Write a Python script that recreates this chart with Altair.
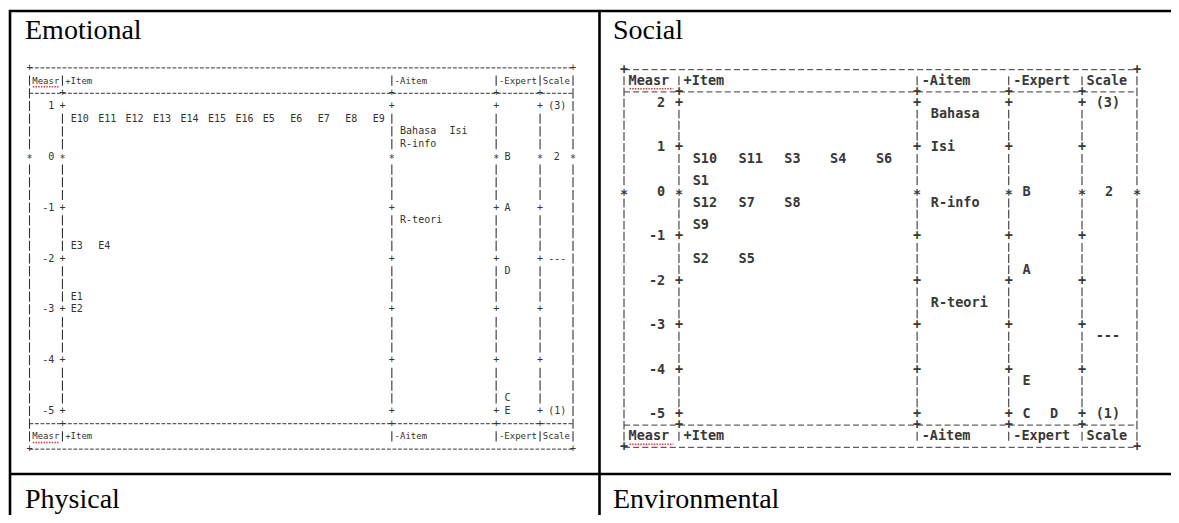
import altair as alt
import pandas as pd

M = 8  # page margin (px)

# ---------------- Emotional Wright map (logits) ----------------
emo_item_names = ["E10", "E11", "E12", "E13", "E14", "E15", "E16", "E5", "E6", "E7", "E8", "E9",
                  "E3", "E4", "E1", "E2"]
emo_item_meas = [0.75, 0.75, 0.75, 0.75, 0.75, 0.75, 0.75, 0.75, 0.75, 0.75, 0.75, 0.75,
                 -1.75, -1.75, -2.75, -3.0]
emo_aitem_names = ["Bahasa", "Isi", "R-info", "R-teori"]
emo_aitem_meas = [0.5, 0.5, 0.25, -1.25]
emo_expert_names = ["B", "A", "D", "C", "E"]
emo_expert_meas = [0.0, -1.0, -2.25, -4.75, -5.0]
emo_scale_labels = ["(3)", "2", "---", "(1)"]
emo_scale_meas = [1.0, 0.0, -2.0, -5.0]

# ---------------- Social Wright map ----------------
soc_item_names = ["S10", "S11", "S3", "S4", "S6", "S1", "S12", "S7", "S8", "S9", "S2", "S5"]
soc_item_meas = [0.75, 0.75, 0.75, 0.75, 0.75, 0.25, -0.25, -0.25, -0.25, -0.75, -1.5, -1.5]
soc_aitem_names = ["Bahasa", "Isi", "R-info", "R-teori"]
soc_aitem_meas = [1.75, 1.0, -0.25, -2.5]
soc_expert_names = ["B", "A", "E", "C", "D"]
soc_expert_meas = [0.0, -1.75, -4.25, -5.0, -5.0]
soc_scale_labels = ["(3)", "2", "---", "(1)"]
soc_scale_meas = [2.0, 0.0, -3.25, -5.0]

header_labels = ["Measr", "+Item", "-Aitem", "-Expert", "Scale"]
cell_titles = ["Emotional", "Social", "Physical", "Environmental"]

# ---------------- layout (styles / geometry) ----------------
EMO = dict(top=1, bot=-5, ytop=106, ybot=411, x0=29.5, w=5.49, seps=[0, 6, 66, 85, 93, 99],
           fs=10, hfs=9, weight="normal", color="#333333", dash=[3.8, 1.7], sq=0.12, stardy=2.5,
           items=(emo_item_names, emo_item_meas), aitems=(emo_aitem_names, emo_aitem_meas),
           experts=(emo_expert_names, emo_expert_meas), scale=(emo_scale_labels, emo_scale_meas))
SOC = dict(top=2, bot=-5, ytop=103, ybot=414, x0=624, w=9.16, seps=[0, 6, 32, 42, 50, 56],
           fs=13.5, hfs=13.5, weight="bold", color="#383838", dash=[6, 3.16], sq=0.18, stardy=3.5,
           items=(soc_item_names, soc_item_meas), aitems=(soc_aitem_names, soc_aitem_meas),
           experts=(soc_expert_names, soc_expert_meas), scale=(soc_scale_labels, soc_scale_meas))

FONT_MONO = "DejaVu Sans Mono"


def place(names, meas, start, slot, rows, center_short=False):
    count = {}
    for n, m in zip(names, meas):
        i = count.get(m, 0)
        count[m] = i + 1
        c = start + i * slot
        if center_short and len(n) == 1:
            c += 1
        rows.append(dict(col=c - 0.5, pos=m, text=n))


def panel_layers(P):
    seps = P["seps"]
    R = seps[-1]
    top, bot = P["top"], P["bot"]
    xs = alt.Scale(domain=[0, R], range=[P["x0"] - M, P["x0"] + R * P["w"] - M], zero=False, nice=False)
    ys = alt.Scale(domain=[top, bot], range=[P["ytop"] - M, P["ybot"] - M], zero=False, nice=False)
    X = lambda f: alt.X(f, scale=xs, axis=None)
    Y = lambda f: alt.Y(f, scale=ys, axis=None)

    # facet element tokens
    tok = []
    place(*P["items"], seps[1] + 2, 5, tok)
    place(*P["aitems"], seps[2] + 2, 9, tok)
    place(*P["experts"], seps[3] + 2, 3, tok)
    place(*P["scale"], seps[4] + 2, 4, tok, center_short=True)
    tok = pd.DataFrame(tok)

    # header / footer labels
    hdr = []
    hcols = [1, 7, seps[2] + 1, seps[3] + 1, seps[4] + 1]
    for ypos in (top + 0.5, bot - 0.5):
        for lab, c in zip(header_labels, hcols):
            hdr.append(dict(col=c - 0.5, pos=ypos, text=lab))
    hdr = pd.DataFrame(hdr)

    # measure numbers
    nums = pd.DataFrame([dict(col=4.5, pos=float(v), text=str(v)) for v in range(top, bot - 1, -1)])

    # separator glyphs and bars
    plus, star, bars = [], [], []
    nlines = int(round((top - bot) * 4)) + 1
    for k in range(nlines):
        p = top - k * 0.25
        for s in seps:
            if abs(p) < 1e-9:
                star.append(dict(col=s, pos=p, text="*"))
            elif s not in (0, R) and abs(p - round(p)) < 1e-9:
                plus.append(dict(col=s, pos=p, text="+"))
            else:
                bars.append(dict(col=s, pa=p + 0.1, pb=p - 0.1))
    for ypos in (top + 0.5, bot - 0.5):
        for s in seps:
            bars.append(dict(col=s, pa=ypos + 0.1, pb=ypos - 0.1))
    for ypos in (top + 0.25, bot - 0.25):
        for s in seps:
            if s in (0, R):
                bars.append(dict(col=s, pa=ypos + 0.1, pb=ypos - 0.1))
            else:
                plus.append(dict(col=s, pos=ypos, text="+"))
    for ypos in (top + 0.75, bot - 0.75):
        for s in (0, R):
            plus.append(dict(col=s, pos=ypos, text="+"))
    plus, star, bars = pd.DataFrame(plus), pd.DataFrame(star), pd.DataFrame(bars)

    dashes = pd.DataFrame([dict(col=0, col2=R, pos=p) for p in
                           (top + 0.75, top + 0.25, bot - 0.25, bot - 0.75)])
    squig = pd.DataFrame([dict(col=0.6, col2=5.4, pos=p) for p in
                          (top + 0.5 - P["sq"], bot - 0.5 - P["sq"])])

    tstyle = dict(font=FONT_MONO, fontSize=P["fs"], fontWeight=P["weight"], color=P["color"],
                  baseline="middle")
    hstyle = dict(tstyle, fontSize=P["hfs"])
    layers = [
        alt.Chart(dashes).mark_rule(strokeDash=P["dash"], color=P["color"], strokeWidth=1)
        .encode(x=X("col:Q"), x2=alt.X2("col2:Q"), y=Y("pos:Q")),
        alt.Chart(bars).mark_rule(color=P["color"], strokeWidth=1.1)
        .encode(x=X("col:Q"), y=Y("pa:Q"), y2=alt.Y2("pb:Q")),
        alt.Chart(plus).mark_text(align="center", **tstyle)
        .encode(x=X("col:Q"), y=Y("pos:Q"), text="text:N"),
        alt.Chart(star).mark_text(align="center", dy=P["stardy"], **tstyle)
        .encode(x=X("col:Q"), y=Y("pos:Q"), text="text:N"),
        alt.Chart(tok).mark_text(align="left", **tstyle)
        .encode(x=X("col:Q"), y=Y("pos:Q"), text="text:N"),
        alt.Chart(hdr).mark_text(align="left", **hstyle)
        .encode(x=X("col:Q"), y=Y("pos:Q"), text="text:N"),
        alt.Chart(nums).mark_text(align="right", **tstyle)
        .encode(x=X("col:Q"), y=Y("pos:Q"), text="text:N"),
        alt.Chart(squig).mark_rule(color="#e23b3b", strokeDash=[1.5, 1.2], strokeWidth=1.5)
        .encode(x=X("col:Q"), x2=alt.X2("col2:Q"), y=Y("pos:Q")),
    ]
    return layers


# ---------------- table frame (page layout) ----------------
W, H = 1163, 507
fx = alt.Scale(domain=[0, W], range=[0, W], zero=False, nice=False)
fy = alt.Scale(domain=[0, H], range=[0, H], zero=False, nice=False)
frame = pd.DataFrame([
    dict(x=1, x2=1180, y=3, y2=3),
    dict(x=2, x2=2, y=2, y2=530),
    dict(x=591.5, x2=591.5, y=2, y2=530),
    dict(x=1, x2=1180, y=466, y2=466),
])
titles = pd.DataFrame(dict(text=cell_titles, x=[17, 605, 17, 605], y=[31, 31, 500, 500]))

frame_layer = alt.Chart(frame).mark_rule(color="black", strokeWidth=2.6).encode(
    x=alt.X("x:Q", scale=fx, axis=None), x2="x2:Q",
    y=alt.Y("y:Q", scale=fy, axis=None), y2="y2:Q")
title_layer = alt.Chart(titles).mark_text(
    font="Liberation Serif", fontSize=28, align="left", baseline="alphabetic", color="black"
).encode(x=alt.X("x:Q", scale=fx, axis=None), y=alt.Y("y:Q", scale=fy, axis=None), text="text:N")

layers = [frame_layer, title_layer] + panel_layers(EMO) + panel_layers(SOC)

chart = alt.layer(*layers).resolve_scale(x="independent", y="independent").properties(
    width=W, height=H, padding=0, autosize="none", background="white"
).configure_view(stroke=None)

chart.save("out.html", embed_options={"renderer": "svg", "actions": False})
